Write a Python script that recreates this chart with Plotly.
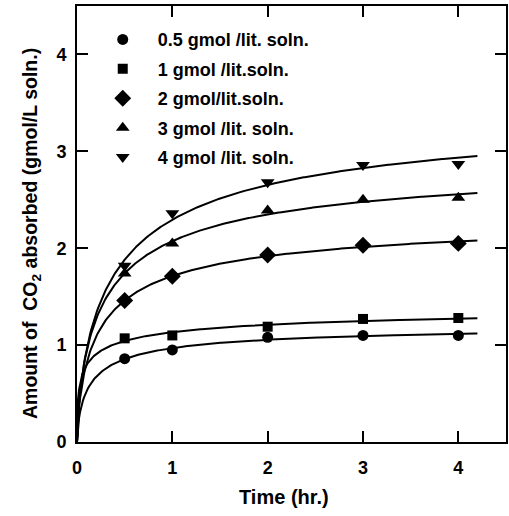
import numpy as np
import plotly.graph_objects as go

# Sampling times (hr.)
time_hr = [0.5, 1, 2, 3, 4]

# CO2 absorbed (gmol/L soln.) for each solution strength
co2_05 = [0.86, 0.95, 1.08, 1.10, 1.10]
co2_1 = [1.07, 1.10, 1.19, 1.27, 1.28]
co2_2 = [1.46, 1.71, 1.93, 2.03, 2.05]
co2_3 = [1.74, 2.05, 2.39, 2.50, 2.52]
co2_4 = [1.82, 2.36, 2.68, 2.86, 2.87]

series_names = [
    "0.5 gmol /lit. soln.",
    "1 gmol /lit.soln.",
    "2 gmol/lit.soln.",
    "3 gmol /lit. soln.",
    "4 gmol /lit. soln.",
]
series_values = [co2_05, co2_1, co2_2, co2_3, co2_4]
symbols = ["circle", "square", "diamond", "triangle-up", "triangle-down"]
sizes = [11, 10, 13, 12, 12]

FONT = "Liberation Sans"
t_fit = np.linspace(0, 4.2, 400)


def fit_curve(t, y):
    """Least-squares fit of the saturation model y = a*t^n/(b + t^n)."""
    t = np.asarray(t, float)
    y = np.asarray(y, float)
    best = None
    for n in np.linspace(0.45, 0.7, 26):
        tn = t ** n
        for b in np.linspace(0.02, 3.0, 600):
            f = tn / (b + tn)
            a = (y @ f) / (f @ f)
            err = np.sum((y - a * f) ** 2)
            if best is None or err < best[0]:
                best = (err, a, b, n)
    _, a, b, n = best
    s = t_fit ** n
    return a * s / (b + s)


fig = go.Figure()

for name, vals, sym, sz in zip(series_names, series_values, symbols, sizes):
    fig.add_trace(go.Scatter(
        x=t_fit, y=fit_curve(time_hr, vals), mode="lines",
        line=dict(color="black", width=2), showlegend=False, hoverinfo="skip",
    ))
    fig.add_trace(go.Scatter(
        x=time_hr, y=vals, mode="markers", name="\u00a0\u00a0\u00a0" + name,
        legendgroup=name,
        marker=dict(symbol=sym, size=sz, color="black"),
    ))

axis_common = dict(
    showgrid=False, zeroline=False, showline=True, linecolor="black",
    linewidth=2, mirror="ticks", ticks="inside", ticklen=11, tickwidth=1.5,
    tickcolor="black",
    tickfont=dict(family=FONT, size=18, color="black", weight="bold"),
)

fig.update_xaxes(range=[0, 4.5], tickvals=[0, 1, 2, 3, 4],
                 ticklabelstandoff=8, **axis_common)
fig.update_yaxes(range=[0, 4.5], tickvals=[0, 1, 2, 3, 4],
                 ticklabelstandoff=5, **axis_common)

fig.add_annotation(
    text="Time (hr.)", xref="paper", yref="paper", x=0.483, y=-0.155,
    showarrow=False, font=dict(family=FONT, size=20, color="black", weight="bold"),
)
fig.add_annotation(
    text="Amount of  CO<sub>2</sub> absorbed (gmol/L soln.)", xref="paper", yref="paper",
    x=-0.14, y=0.478, textangle=-90, showarrow=False,
    font=dict(family=FONT, size=19.5, color="black", weight="bold"),
)

fig.update_layout(
    width=509, height=516,
    margin=dict(l=77, r=1, t=6, b=74),
    paper_bgcolor="white", plot_bgcolor="white",
    showlegend=True,
    legend=dict(
        x=0.06, y=0.965, xanchor="left", yanchor="top",
        bgcolor="rgba(0,0,0,0)", borderwidth=0,
        font=dict(family=FONT, size=18, color="black", weight="bold"),
        tracegroupgap=3,
    ),
)

fig.write_html("out.html")
